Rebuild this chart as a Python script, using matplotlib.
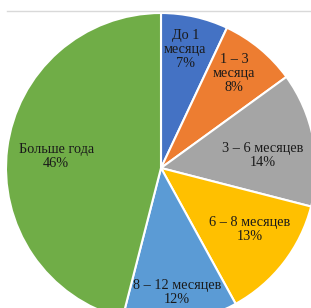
import matplotlib.pyplot as plt
from matplotlib.lines import Line2D
import numpy as np

# данные диаграммы
categories = ["До 1\nмесяца", "1 – 3\nмесяца", "3 – 6 месяцев", "6 – 8 месяцев", "8 – 12 месяцев", "Больше года"]
shares = [7, 8, 14, 13, 12, 46]
colors = ["#4472C4", "#ED7D31", "#A5A5A5", "#FFC000", "#5B9BD5", "#70AD47"]

# положение подписей: радиус и сдвиг угла
lab_r = [0.78, 0.77, 0.66, 0.70, 0.81, 0.68]
lab_da = [1, 2, -4, 3, 0, 1]

fig = plt.figure(figsize=(3.11, 3.08), dpi=100)
ax = fig.add_axes([0, 0, 1, 1])

wedges, _ = ax.pie(shares, colors=colors, startangle=90, counterclock=False,
                   radius=1, wedgeprops=dict(edgecolor="white", linewidth=1.5))

for w, cat, v, r, da in zip(wedges, categories, shares, lab_r, lab_da):
    ang = np.radians((w.theta1 + w.theta2) / 2 + da)
    ax.text(r * np.cos(ang), r * np.sin(ang), cat + "\n" + str(v) + "%",
            ha="center", va="center", fontsize=10.3, family="Liberation Serif",
            color="#1a1a1a", linespacing=1.1)

# центр круга (161, 168) px, радиус 155 px
sc = 155
ax.set_xlim(-161 / sc, 150 / sc)
ax.set_ylim(-140 / sc, 168 / sc)
ax.axis("off")

# тонкая рамка сверху
fig.add_artist(Line2D([7 / 311, 1], [1 - 11 / 308, 1 - 11 / 308], color="#d9d9d9", linewidth=1))

fig.savefig("out.png", dpi=100)
